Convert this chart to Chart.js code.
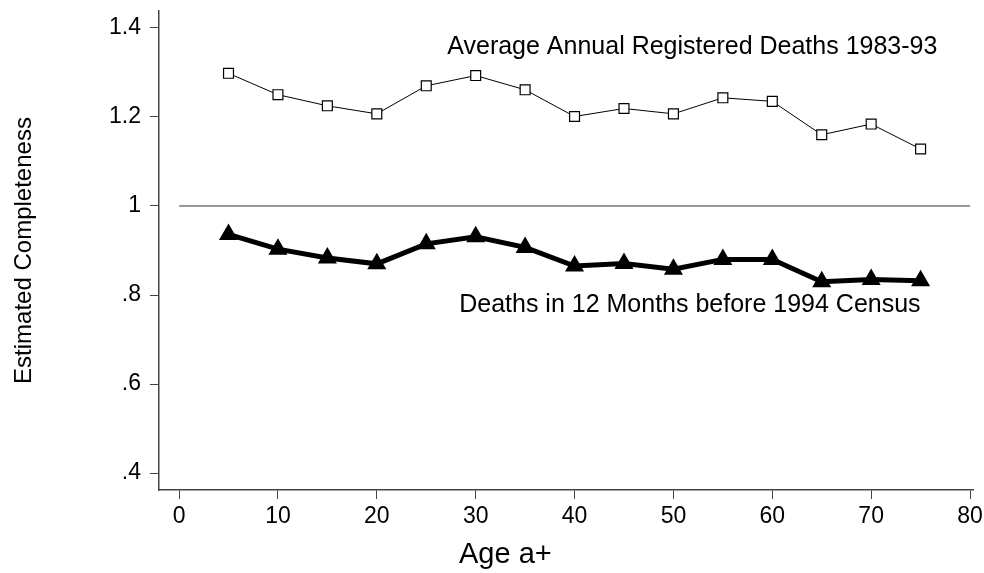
<!DOCTYPE html>
<html>
<head>
<meta charset="utf-8">
<script src="https://cdn.jsdelivr.net/npm/chart.js@4"></script>
<style>
  html, body { margin: 0; padding: 0; background: #fff; }
  #wrap { width: 984px; height: 573px; }
</style>
</head>
<body>
<div id="wrap"><canvas id="chart"></canvas></div>
<script>
// データ
const ages = [5, 10, 15, 20, 25, 30, 35, 40, 45, 50, 55, 60, 65, 70, 75];
const registeredAvg = [1.298, 1.250, 1.225, 1.207, 1.270, 1.293, 1.261, 1.201, 1.219, 1.207, 1.243, 1.235, 1.160, 1.184, 1.128];
const census12m = [0.936, 0.903, 0.883, 0.870, 0.915, 0.931, 0.907, 0.865, 0.871, 0.858, 0.880, 0.880, 0.830, 0.835, 0.832];
const refLevel = 1;
const xTicks = [0, 10, 20, 30, 40, 50, 60, 70, 80];
const yTicks = [0.4, 0.6, 0.8, 1, 1.2, 1.4];
const labelTop = 'Average Annual Registered Deaths 1983-93';
const labelBottom = 'Deaths in 12 Months before 1994 Census';
const xTitle = 'Age a+';
const yTitle = 'Estimated Completeness';

const FONT = "'Liberation Sans', Arial, sans-serif";
const AXIS = '#444';

// 注記テキスト
const textPlugin = {
  id: 'texts',
  afterDraw(chart) {
    const { ctx, scales: { x, y }, chartArea } = chart;
    ctx.save();
    ctx.fillStyle = '#000';
    ctx.font = `25px ${FONT}`;
    ctx.textAlign = 'right';
    ctx.textBaseline = 'middle';
    ctx.fillText(labelTop, x.getPixelForValue(76.7), y.getPixelForValue(1.357));
    ctx.fillText(labelBottom, x.getPixelForValue(75.0), y.getPixelForValue(0.778));

    ctx.textAlign = 'center';
    ctx.textBaseline = 'alphabetic';
    ctx.font = `29px ${FONT}`;
    ctx.fillText(xTitle, x.getPixelForValue(33), 563);

    ctx.textBaseline = 'middle';
    ctx.font = `24px ${FONT}`;
    ctx.translate(24, (chartArea.top + chartArea.bottom) / 2);
    ctx.rotate(-Math.PI / 2);
    ctx.fillText(yTitle, 0, 0);
    ctx.restore();
  }
};

new Chart(document.getElementById('chart').getContext('2d'), {
  type: 'line',
  data: {
    datasets: [
      {
        label: 'ref',
        data: [{ x: 0, y: refLevel }, { x: 80, y: refLevel }],
        borderColor: '#333',
        borderWidth: 1,
        pointRadius: 0
      },
      {
        label: labelTop,
        data: ages.map((a, i) => ({ x: a, y: registeredAvg[i] })),
        borderColor: '#000',
        borderWidth: 1,
        pointStyle: 'rect',
        pointRadius: 7,
        pointBorderWidth: 1.2,
        pointBackgroundColor: '#fff',
        pointBorderColor: '#000'
      },
      {
        label: labelBottom,
        data: ages.map((a, i) => ({ x: a, y: census12m[i] })),
        borderColor: '#000',
        borderWidth: 5,
        pointStyle: 'triangle',
        pointRadius: 6,
        pointBackgroundColor: '#000',
        pointBorderColor: '#000'
      }
    ]
  },
  options: {
    responsive: true,
    maintainAspectRatio: false,
    animation: false,
    layout: { padding: { top: 11, right: 0, left: 0, bottom: 0 } },
    plugins: {
      legend: { display: false },
      tooltip: { enabled: false }
    },
    scales: {
      x: {
        type: 'linear',
        min: -2.03,
        max: 80.3,
        afterBuildTicks: (s) => { s.ticks = xTicks.map(v => ({ value: v })); },
        afterFit: (s) => {
          s.height = 83;
          s.paddingLeft = 0;
          s.paddingRight = 0;
        },
        ticks: {
          font: { family: FONT, size: 23 },
          color: '#000',
          padding: 4,
          maxRotation: 0,
          callback: (v) => String(v)
        },
        grid: { drawOnChartArea: false, drawTicks: true, tickLength: 9, color: AXIS },
        border: { display: true, color: AXIS, width: 1.5 }
      },
      y: {
        type: 'linear',
        min: 0.362,
        max: 1.438,
        afterBuildTicks: (s) => { s.ticks = yTicks.map(v => ({ value: v })); },
        afterFit: (s) => {
          s.width = 159;
          s.paddingTop = 0;
          s.paddingBottom = 0;
        },
        ticks: {
          font: { family: FONT, size: 23 },
          color: '#000',
          padding: 9,
          callback: (v) => {
            const t = String(Math.round(v * 10) / 10);
            return t.startsWith('0') ? t.slice(1) : t;
          }
        },
        grid: { drawOnChartArea: false, drawTicks: true, tickLength: 9, color: AXIS },
        border: { display: true, color: AXIS, width: 1.5 }
      }
    }
  },
  plugins: [textPlugin]
});
</script>
</body>
</html>
